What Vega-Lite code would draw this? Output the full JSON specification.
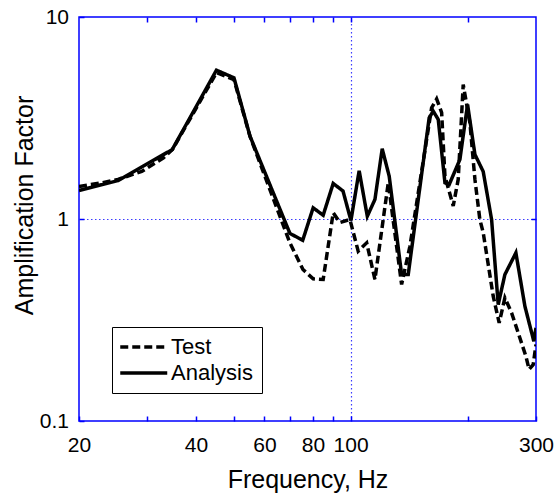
{
  "$schema": "https://vega.github.io/schema/vega-lite/v6.json",
  "width": 457,
  "height": 404,
  "autosize": "none",
  "padding": {"left": 79, "top": 17, "right": 19, "bottom": 76},
  "background": "white",
  "config": {
    "view": {"stroke": "#0000ff", "strokeWidth": 1.5},
    "font": "Liberation Sans"
  },
  "data": {
    "values": [
      {"f": 20, "v": 1.45, "series": "Test"},
      {"f": 22.9, "v": 1.51, "series": "Test"},
      {"f": 25.2, "v": 1.57, "series": "Test"},
      {"f": 29.0, "v": 1.72, "series": "Test"},
      {"f": 33.0, "v": 2.01, "series": "Test"},
      {"f": 34.8, "v": 2.21, "series": "Test"},
      {"f": 45.2, "v": 5.31, "series": "Test"},
      {"f": 50.1, "v": 4.9, "series": "Test"},
      {"f": 55.1, "v": 2.56, "series": "Test"},
      {"f": 65.8, "v": 1.03, "series": "Test"},
      {"f": 69.8, "v": 0.762, "series": "Test"},
      {"f": 75.4, "v": 0.562, "series": "Test"},
      {"f": 80.1, "v": 0.506, "series": "Test"},
      {"f": 85.0, "v": 0.502, "series": "Test"},
      {"f": 90.2, "v": 1.073, "series": "Test"},
      {"f": 93.9, "v": 0.961, "series": "Test"},
      {"f": 99.6, "v": 0.994, "series": "Test"},
      {"f": 104.6, "v": 0.693, "series": "Test"},
      {"f": 110.0, "v": 0.762, "series": "Test"},
      {"f": 115.5, "v": 0.502, "series": "Test"},
      {"f": 125.0, "v": 1.511, "series": "Test"},
      {"f": 135.3, "v": 0.474, "series": "Test"},
      {"f": 142.1, "v": 0.733, "series": "Test"},
      {"f": 161.6, "v": 3.55, "series": "Test"},
      {"f": 166.5, "v": 3.93, "series": "Test"},
      {"f": 171.5, "v": 3.36, "series": "Test"},
      {"f": 174.9, "v": 1.63, "series": "Test"},
      {"f": 183.7, "v": 1.16, "series": "Test"},
      {"f": 189.2, "v": 1.57, "series": "Test"},
      {"f": 194.9, "v": 4.63, "series": "Test"},
      {"f": 202.8, "v": 2.99, "series": "Test"},
      {"f": 208.9, "v": 1.57, "series": "Test"},
      {"f": 215.1, "v": 0.994, "series": "Test"},
      {"f": 219.4, "v": 0.857, "series": "Test"},
      {"f": 232.8, "v": 0.415, "series": "Test"},
      {"f": 241.2, "v": 0.306, "series": "Test"},
      {"f": 249.5, "v": 0.407, "series": "Test"},
      {"f": 259.6, "v": 0.343, "series": "Test"},
      {"f": 270.0, "v": 0.273, "series": "Test"},
      {"f": 282.6, "v": 0.209, "series": "Test"},
      {"f": 288.0, "v": 0.18, "series": "Test"},
      {"f": 295.0, "v": 0.19, "series": "Test"},
      {"f": 300, "v": 0.239, "series": "Test"},
      {"f": 20, "v": 1.384, "series": "Analysis"},
      {"f": 25.24, "v": 1.551, "series": "Analysis"},
      {"f": 34.76, "v": 2.208, "series": "Analysis"},
      {"f": 45.16, "v": 5.453, "series": "Analysis"},
      {"f": 50.1, "v": 5.0, "series": "Analysis"},
      {"f": 55.1, "v": 2.57, "series": "Analysis"},
      {"f": 69.8, "v": 0.848, "series": "Analysis"},
      {"f": 75.3, "v": 0.785, "series": "Analysis"},
      {"f": 80.1, "v": 1.136, "series": "Analysis"},
      {"f": 85.0, "v": 1.044, "series": "Analysis"},
      {"f": 90.2, "v": 1.499, "series": "Analysis"},
      {"f": 95.6, "v": 1.376, "series": "Analysis"},
      {"f": 100.2, "v": 0.983, "series": "Analysis"},
      {"f": 105.2, "v": 1.734, "series": "Analysis"},
      {"f": 110.4, "v": 1.032, "series": "Analysis"},
      {"f": 115.5, "v": 1.249, "series": "Analysis"},
      {"f": 120.6, "v": 2.226, "series": "Analysis"},
      {"f": 125.7, "v": 1.629, "series": "Analysis"},
      {"f": 135.3, "v": 0.531, "series": "Analysis"},
      {"f": 140.7, "v": 0.531, "series": "Analysis"},
      {"f": 159.3, "v": 3.17, "series": "Analysis"},
      {"f": 163.2, "v": 3.418, "series": "Analysis"},
      {"f": 168.1, "v": 3.109, "series": "Analysis"},
      {"f": 174.9, "v": 1.511, "series": "Analysis"},
      {"f": 179.4, "v": 1.482, "series": "Analysis"},
      {"f": 191.1, "v": 1.971, "series": "Analysis"},
      {"f": 200.0, "v": 3.688, "series": "Analysis"},
      {"f": 208.9, "v": 2.086, "series": "Analysis"},
      {"f": 219.4, "v": 1.718, "series": "Analysis"},
      {"f": 230.6, "v": 0.994, "series": "Analysis"},
      {"f": 239.8, "v": 0.377, "series": "Analysis"},
      {"f": 249.5, "v": 0.531, "series": "Analysis"},
      {"f": 266.3, "v": 0.68, "series": "Analysis"},
      {"f": 280.9, "v": 0.37, "series": "Analysis"},
      {"f": 296.2, "v": 0.248, "series": "Analysis"},
      {"f": 300, "v": 0.289, "series": "Analysis"}
    ]
  },
  "resolve": {"axis": {"x": "independent", "y": "independent"}},
  "layer": [
    {
      "mark": {"type": "line", "opacity": 0},
      "encoding": {
        "x": {
          "field": "f", "type": "quantitative",
          "scale": {"type": "log", "domain": [20, 300], "nice": false},
          "axis": {
            "orient": "top", "values": [100],
            "labels": false, "domain": false, "ticks": false,
            "grid": true, "gridColor": "#3c3cff", "gridDash": [1.5, 2.5], "gridWidth": 1.2, "gridOpacity": 1,
            "title": null
          }
        },
        "y": {
          "field": "v", "type": "quantitative",
          "scale": {"type": "log", "domain": [0.1, 10], "nice": false},
          "axis": {
            "orient": "right", "values": [1],
            "labels": false, "domain": false, "ticks": false,
            "grid": true, "gridColor": "#3c3cff", "gridDash": [1.5, 2.5], "gridWidth": 1.2, "gridOpacity": 1,
            "title": null
          }
        },
        "detail": {"field": "series", "type": "nominal"}
      }
    },
    {
      "mark": {"type": "line", "strokeWidth": 3.5, "strokeCap": "butt", "strokeJoin": "miter", "color": "black", "clip": true},
      "encoding": {
        "x": {
          "field": "f", "type": "quantitative",
          "axis": {
            "orient": "bottom",
            "values": [20, 30, 40, 50, 60, 70, 80, 90, 100, 200, 300],
            "labelExpr": "indexof([20, 40, 60, 80, 100, 300], datum.value) >= 0 ? format(datum.value, 'd') : ''",
            "domain": false, "grid": false,
            "tickSize": -5, "tickColor": "#0000ff", "tickWidth": 1.5,
            "labelPadding": 35, "labelBaseline": "alphabetic",
            "labelFontSize": 21, "labelColor": "black", "labelFont": "Liberation Sans",
            "labelFlush": false, "labelOverlap": false, "labelBound": false,
            "title": "Frequency, Hz", "titleFontSize": 25, "titleFontWeight": "normal",
            "titleColor": "black", "titleFont": "Liberation Sans",
            "titleY": 66, "titleBaseline": "alphabetic"
          }
        },
        "y": {
          "field": "v", "type": "quantitative",
          "axis": {
            "orient": "left",
            "values": [0.1, 1, 10],
            "labelExpr": "datum.value < 0.5 ? '0.1' : (datum.value < 5 ? '1' : '10')",
            "domain": false, "grid": false,
            "tickSize": -5, "tickColor": "#0000ff", "tickWidth": 1.5,
            "labelPadding": 15.5, "labelBaseline": "middle",
            "labelFontSize": 21, "labelColor": "black", "labelFont": "Liberation Sans",
            "labelFlush": false, "labelOverlap": false, "labelBound": false,
            "title": "Amplification Factor", "titleFontSize": 25, "titleFontWeight": "normal",
            "titleColor": "black", "titleFont": "Liberation Sans",
            "titleX": -47, "titleY": 188, "titleAngle": 270,
            "titleBaseline": "alphabetic", "titleAlign": "center"
          }
        },
        "strokeDash": {
          "field": "series", "type": "nominal",
          "scale": {"domain": ["Test", "Analysis"], "range": [[8, 4], [1, 0]]},
          "legend": {
            "title": null,
            "orient": "none", "legendX": 33, "legendY": 310,
            "symbolType": "M-2,0H6", "symbolSize": 138, "symbolStrokeWidth": 3.5,
            "symbolStrokeColor": "black", "symbolFillColor": "transparent",
            "labelFontSize": 22, "labelColor": "black", "labelFont": "Liberation Sans",
            "labelOffset": 28, "padding": 9, "rowPadding": 4,
            "strokeColor": "black", "fillColor": "white"
          }
        }
      }
    },
    {
      "mark": {"type": "line", "opacity": 0},
      "encoding": {
        "x": {
          "field": "f", "type": "quantitative",
          "axis": {
            "orient": "top",
            "values": [30, 40, 50, 60, 70, 80, 90, 100, 200],
            "labels": false, "domain": false, "grid": false,
            "tickSize": -5, "tickColor": "#0000ff", "tickWidth": 1.5,
            "title": null
          }
        },
        "y": {
          "field": "v", "type": "quantitative",
          "axis": {
            "orient": "right",
            "values": [1],
            "labels": false, "domain": false, "grid": false,
            "tickSize": -5, "tickColor": "#0000ff", "tickWidth": 1.5,
            "title": null
          }
        },
        "detail": {"field": "series", "type": "nominal"}
      }
    }
  ]
}
